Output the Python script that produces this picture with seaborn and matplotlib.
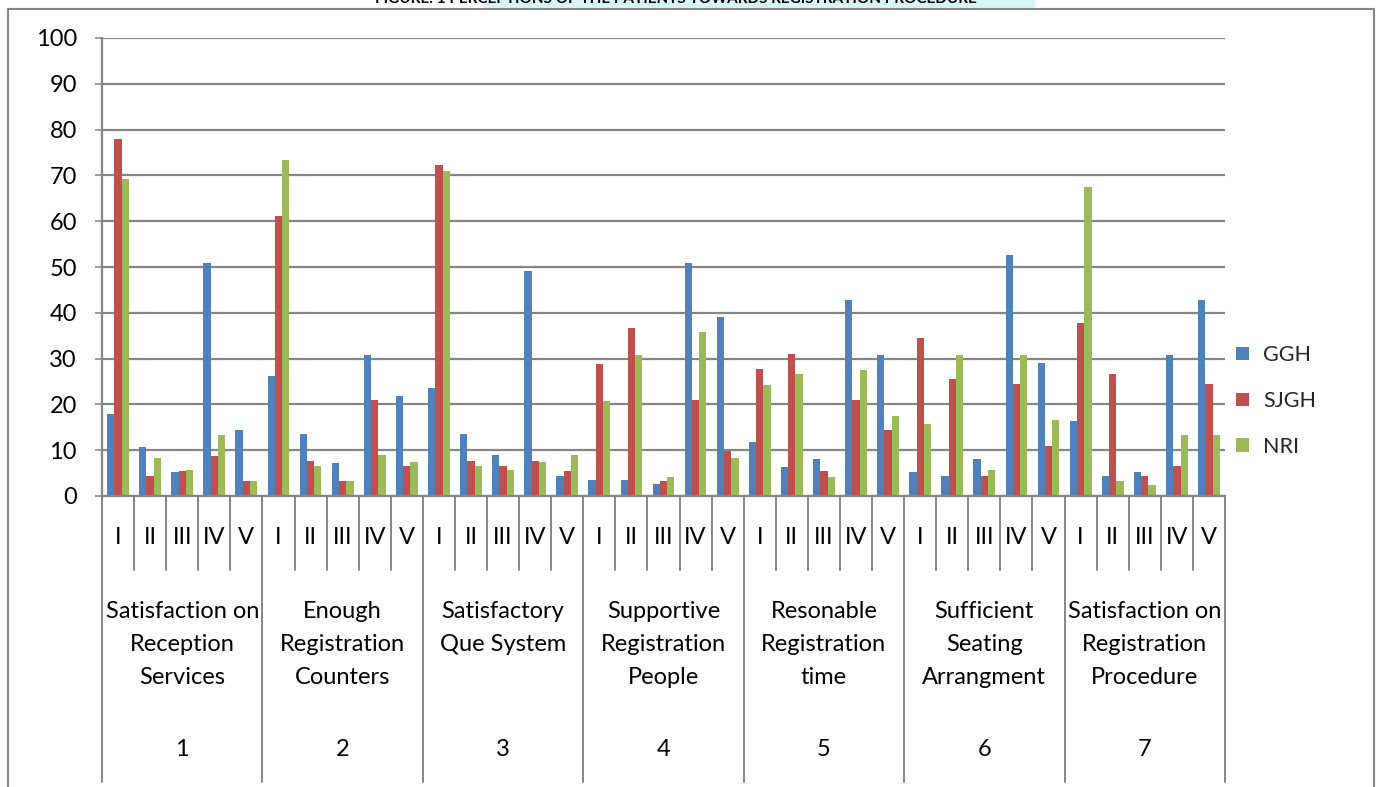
import matplotlib
matplotlib.use("Agg")
import matplotlib.pyplot as plt
from matplotlib.lines import Line2D
from matplotlib.patches import Patch, Rectangle
from matplotlib.transforms import blended_transform_factory
import numpy as np
import pandas as pd
import seaborn as sns

# ---- data -------------------------------------------------------------
title = "FIGURE: 1 PERCEPTIONS OF THE PATIENTS TOWARDS REGISTRATION PROCEDURE"
series = ["GGH", "SJGH", "NRI"]
colors = ["#4F81BD", "#C0504D", "#9BBB59"]
roman = ["I", "II", "III", "IV", "V"]
group_names = [
    "Satisfaction on\nReception\nServices",
    "Enough\nRegistration\nCounters",
    "Satisfactory\nQue System",
    "Supportive\nRegistration\nPeople",
    "Resonable\nRegistration\ntime",
    "Sufficient\nSeating\nArrangment",
    "Satisfaction on\nRegistration\nProcedure",
]
group_numbers = ["1", "2", "3", "4", "5", "6", "7"]

ggh = [18.0, 10.7, 5.2, 50.8, 14.4,
       26.2, 13.5, 7.2, 30.8, 21.8,
       23.6, 13.5, 8.9, 49.1, 4.4,
       3.5, 3.5, 2.6, 50.8, 39.1,
       11.8, 6.3, 8.1, 42.8, 30.8,
       5.2, 4.4, 8.1, 52.6, 29.0,
       16.4, 4.4, 5.2, 30.8, 42.8]
sjgh = [78.0, 4.4, 5.4, 8.7, 3.3,
        61.1, 7.6, 3.3, 20.9, 6.5,
        72.2, 7.6, 6.5, 7.6, 5.5,
        28.8, 36.7, 3.3, 20.9, 9.8,
        27.7, 31.0, 5.5, 20.9, 14.4,
        34.5, 25.5, 4.4, 24.4, 10.9,
        37.7, 26.6, 4.4, 6.5, 24.4]
nri = [69.2, 8.3, 5.7, 13.3, 3.3,
       73.3, 6.5, 3.3, 8.9, 7.4,
       70.9, 6.5, 5.7, 7.4, 8.9,
       20.7, 30.8, 4.1, 35.8, 8.3,
       24.2, 26.6, 4.1, 27.5, 17.5,
       15.7, 30.8, 5.7, 30.8, 16.6,
       67.4, 3.3, 2.4, 13.3, 13.3]

n_slots = len(ggh)
rows = []
for name, vals in zip(series, [ggh, sjgh, nri]):
    for i, v in enumerate(vals):
        rows.append({"slot": i, "Hospital": name, "value": v})
df = pd.DataFrame(rows)

# ---- figure -----------------------------------------------------------
sns.set_theme(style="white")
plt.rcParams["font.family"] = ["Lato", "DejaVu Sans"]

W, H = 1377, 787
GRAY = "#868686"
FS = 17
fig = plt.figure(figsize=(W / 100, H / 100), dpi=100)
fig.patch.set_facecolor("white")

ax_left, ax_right, ax_top, ax_bottom = 102, 1225, 38, 496
ax = fig.add_axes([ax_left / W, (H - ax_bottom) / H,
                   (ax_right - ax_left) / W, (ax_bottom - ax_top) / H])

sns.barplot(data=df, x="slot", y="value", hue="Hospital", hue_order=series,
            order=list(range(n_slots)), palette=colors, width=0.68,
            saturation=1, linewidth=0, legend=False, ax=ax)

ax.set_xlim(-0.5, n_slots - 0.5)
ax.set_ylim(0, 100)
ax.set_yticks(range(0, 101, 10))
ax.set_xlabel("")
ax.set_ylabel("")
ax.yaxis.grid(True, color=GRAY, linewidth=1.6)
ax.set_axisbelow(True)
for side in ["top", "right"]:
    ax.spines[side].set_visible(False)
for side in ["left", "bottom"]:
    ax.spines[side].set_color(GRAY)
    ax.spines[side].set_linewidth(1.6)
ax.tick_params(axis="y", length=5, width=1.15, color=GRAY, pad=13,
               labelsize=FS, labelcolor="black", left=True)
ax.tick_params(axis="x", bottom=False, labelbottom=False)

# ---- multi-level category table under the axis -------------------------
trans = blended_transform_factory(ax.transData, ax.transAxes)


def ya(ypx):
    return (ax_bottom - ypx) / (ax_bottom - ax_top)


for k in range(n_slots + 1):
    xb = k - 0.5
    y_end = ya(782) if k % 5 == 0 else ya(570)
    ax.add_line(Line2D([xb, xb], [0, y_end], transform=trans, color=GRAY,
                       linewidth=1.4, clip_on=False))

for i in range(n_slots):
    ax.text(i, ya(538), roman[i % 5], transform=trans, ha="center",
            va="center", fontsize=FS, color="black", clip_on=False)

for g, (name, num) in enumerate(zip(group_names, group_numbers)):
    xc = g * 5 + 2
    for j, line in enumerate(name.split("\n")):
        ax.text(xc, ya(612 + j * 32.5), line, transform=trans, ha="center",
                va="center", fontsize=FS, color="black", clip_on=False)
    ax.text(xc, ya(750), num, transform=trans, ha="center", va="center",
            fontsize=FS, color="black", clip_on=False)

# ---- legend ------------------------------------------------------------
handles = [Patch(facecolor=c, edgecolor="none", label=s)
           for s, c in zip(series, colors)]
fig.legend(handles=handles, loc="center left",
           bbox_to_anchor=(1236 / W, (H - 401) / H), frameon=False,
           fontsize=15.5, handlelength=0.6, handleheight=0.6,
           handletextpad=0.65, labelspacing=1.2, borderaxespad=0,
           borderpad=0)

# ---- outer frame and heading strip -------------------------------------
fx0, fx1, fy = 8, 1374, 9
fig.add_artist(Line2D([fx0 / W, fx0 / W], [0, (H - fy) / H],
                      transform=fig.transFigure, color=GRAY, linewidth=1.5))
fig.add_artist(Line2D([fx1 / W, fx1 / W], [0, (H - fy) / H],
                      transform=fig.transFigure, color=GRAY, linewidth=1.5))
fig.add_artist(Line2D([fx0 / W, fx1 / W], [(H - fy) / H, (H - fy) / H],
                      transform=fig.transFigure, color=GRAY, linewidth=1.5))
fig.add_artist(Rectangle((484 / W, (H - 7.5) / H), (1035 - 484) / W, 7.5 / H,
                         transform=fig.transFigure, facecolor="#d6f7f7",
                         edgecolor="none"))
fig.text(676 / W, (H - 3) / H, title, ha="center", va="baseline",
         fontsize=11, fontweight="bold", color="black")

fig.savefig("out.png", dpi=100, facecolor="white")
